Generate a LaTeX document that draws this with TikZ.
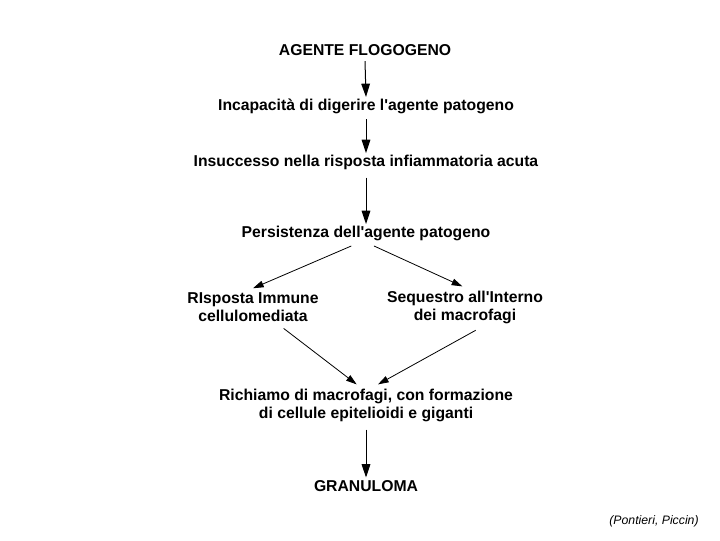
\documentclass[tikz,border=0pt]{standalone}
\usepackage{fontspec}
\newfontfamily\lbfont{Liberation Sans}
\usetikzlibrary{arrows.meta}
\begin{document}
\begin{tikzpicture}[x=0.75pt,y=-0.75pt,
  lbl/.style={inner sep=0pt,align=center,font=\lbfont\fontsize{11.8}{13.5}\selectfont\bfseries},
  arr/.style={line width=0.75pt,-{Triangle[length=10pt,width=6.5pt]}},
  darr/.style={line width=0.6pt,-{Triangle[length=8pt,width=5pt]}}]
\useasboundingbox[fill=white] (0,0) rectangle (720,540);
\node[lbl] (a) at (365,50) {AGENTE FLOGOGENO};
\node[lbl] (b) at (366,106) {Incapacità di digerire l'agente patogeno};
\node[lbl] (c) at (366,162) {Insuccesso nella risposta infiammatoria acuta};
\node[lbl] (d) at (366,233) {Persistenza dell'agente patogeno};
\node[lbl] (e) at (253,307) {RIsposta Immune\\cellulomediata};
\node[lbl] (f) at (465,307) {Sequestro all'Interno\\dei macrofagi};
\node[lbl] (g) at (366,405) {Richiamo di macrofagi, con formazione\\di cellule epitelioidi e giganti};
\node[lbl] (h) at (366,486) {GRANULOMA};
\node[inner sep=0pt,font=\lbfont\fontsize{9.2}{11}\selectfont\itshape] (src) at (654,521) {(Pontieri, Piccin)};
\draw[arr] ([yshift=-4pt]a.south) -- ([yshift=1pt]b.north);
\draw[arr] ([yshift=-4pt]b.south) -- ([yshift=1pt]c.north);
\draw[arr] ([yshift=-6pt]c.south) -- ([yshift=1pt]d.north);
\draw[darr] ([xshift=-11pt,yshift=-4pt]d.south) -- ([xshift=0pt,yshift=3pt]e.north);
\draw[darr] ([xshift=6pt,yshift=-4pt]d.south) -- ([xshift=-2pt,yshift=3pt]f.north);
\draw[darr] ([xshift=23pt,yshift=-5pt]e.south) -- ([xshift=-7pt,yshift=3pt]g.north);
\draw[darr] ([xshift=8pt,yshift=-5pt]f.south) -- ([xshift=9pt,yshift=3pt]g.north);
\draw[arr] ([yshift=-6pt]g.south) -- ([yshift=2pt]h.north);
\end{tikzpicture}
\end{document}
